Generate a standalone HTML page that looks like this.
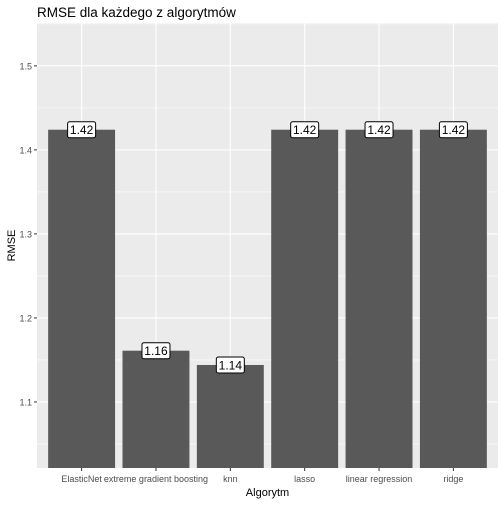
<!DOCTYPE html>
<html><head><meta charset="utf-8"><style>
body{margin:0;background:#fff;font-family:"Liberation Sans",sans-serif}
svg text{font-family:"Liberation Sans",sans-serif}
</style></head><body>
<svg id="c" width="504" height="504" viewBox="0 0 504 504">
<text x="37" y="17" font-size="13.5" fill="#000">RMSE dla każdego z algorytmów</text>
<rect x="37" y="23" width="461" height="445" fill="#ebebeb"/>
<g id="grid"></g><g id="bars"></g><g id="axes"></g>
<text x="267.5" y="496" font-size="11" text-anchor="middle" fill="#000">Algorytm</text>
<text transform="translate(15,245.5) rotate(-90)" font-size="11" text-anchor="middle" fill="#000">RMSE</text>
</svg>
<script>
const categories=["ElasticNet","extreme gradient boosting","knn","lasso","linear regression","ridge"];
const values=[1.424,1.161,1.144,1.424,1.424,1.424];
const labels=["1.42","1.16","1.14","1.42","1.42","1.42"];
const yTicks=[1.1,1.2,1.3,1.4,1.5];
const NS="http://www.w3.org/2000/svg";
const L=37,R=498,T=23,B=468,ymin=1.0214,ymax=1.551;
const y=v=>B-(v-ymin)/(ymax-ymin)*(B-T);
const step=(R-L)/(categories.length+0.2);
const x=i=>L+step*(0.6+i);
function mk(t,a,p){const e=document.createElementNS(NS,t);for(const k in a)e.setAttribute(k,a[k]);p.appendChild(e);return e;}
const g=document.getElementById('grid'),b=document.getElementById('bars'),ax=document.getElementById('axes');
yTicks.forEach((t,i)=>{
 if(i<yTicks.length){const m=mk('line',{x1:L,x2:R,y1:y(t-0.05),y2:y(t-0.05),stroke:'#fff','stroke-width':0.6},g);
 
 }
 const l=mk('line',{x1:L,x2:R,y1:y(t),y2:y(t),stroke:'#fff','stroke-width':1.1},g);
 
 
 const tk=mk('line',{x1:L-3,x2:L,y1:y(t),y2:y(t),stroke:'#333','stroke-width':1},ax);
 
 
 const tx=mk('text',{x:L-5,y:y(t)+3.5,'font-size':9,'text-anchor':'end',fill:'#4d4d4d'},ax);
 tx.textContent=t.toFixed(1);
 
 
});
const ml=mk('line',{x1:L,x2:R,y1:y(1.55),y2:y(1.55),stroke:'#fff','stroke-width':0.6},g);


categories.forEach((c,i)=>{
 const vl=mk('line',{x1:x(i),x2:x(i),y1:T,y2:B,stroke:'#fff','stroke-width':1.1},g);
 
 
 const w=step*0.9;
 const r=mk('rect',{x:x(i)-w/2,y:y(values[i]),width:w,height:B-y(values[i]),fill:'#595959'},b);
 
 
 const bx=mk('rect',{x:x(i)-14,y:y(values[i])-8,width:28,height:16,rx:2,fill:'#fff',stroke:'#000','stroke-width':1},b);
 
 
 const lt=mk('text',{x:x(i),y:y(values[i])+4.5,'font-size':12,'text-anchor':'middle',fill:'#000'},b);
 lt.textContent=labels[i];
 
 
 const tk=mk('line',{x1:x(i),x2:x(i),y1:B,y2:B+3,stroke:'#333','stroke-width':1},ax);
 
 
 const tx=mk('text',{x:x(i),y:B+14,'font-size':9,'text-anchor':'middle',fill:'#4d4d4d'},ax);
 tx.textContent=c;
 
 
});
</script>
</body></html>
